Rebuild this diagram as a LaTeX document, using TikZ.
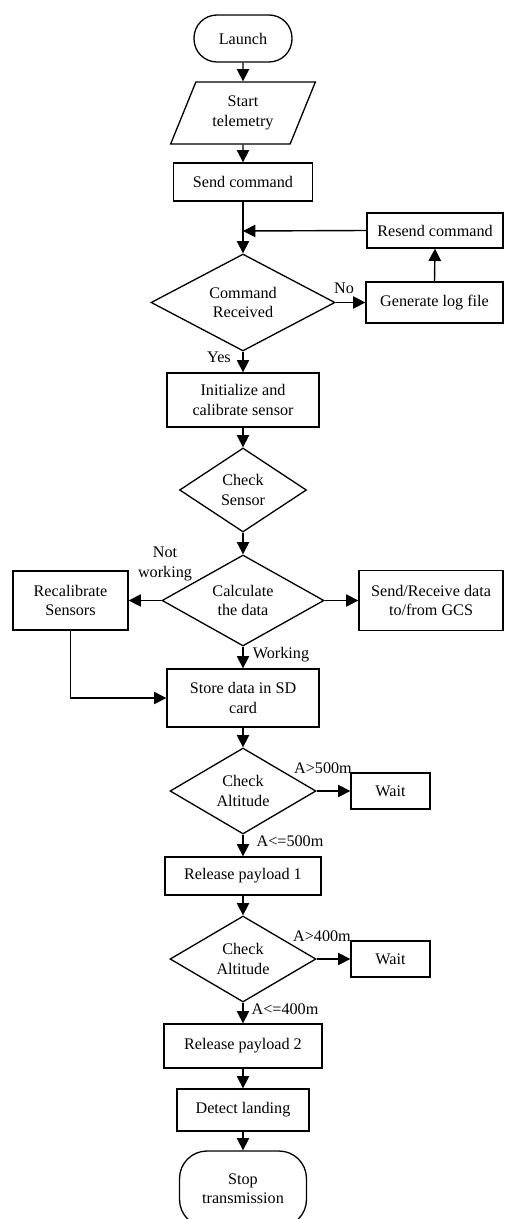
\documentclass[tikz,border=0pt]{standalone}
\usepackage{fontspec}
\setmainfont{Liberation Serif}
\usepackage{tikz}
\usetikzlibrary{shapes.geometric}
\usetikzlibrary{arrows.meta}

\tikzset{
  box/.style={draw, rectangle, align=center, inner sep=1pt, line width=0.75pt},
  term/.style={draw, rectangle, rounded corners=0.46cm, align=center, inner sep=1pt, line width=0.75pt},
  io/.style={draw, trapezium, trapezium left angle=65, trapezium right angle=115,
             trapezium stretches=true, align=center, inner sep=1pt, line width=0.75pt},
  decide/.style={draw, diamond, aspect=2, align=center, inner sep=0pt, line width=0.75pt},
  flow/.style={-{Triangle[length=7pt,width=7pt]}, line width=0.8pt},
  lbl/.style={inner sep=0pt, align=center}
}

\begin{document}
\begin{tikzpicture}[x=0.02cm, y=-0.02cm, font=\fontsize{9.2}{11}\selectfont]
                \useasboundingbox (0,0) rectangle (505,1219);
                % main column
                \node[term, minimum width=1.96cm, minimum height=0.94cm] (launch) at (243,38.5) {Launch};
                \node[io, minimum width=2.9cm, minimum height=1.24cm] (start) at (243,113) {Start\\telemetry};
                \node[box, minimum width=2.78cm, minimum height=0.76cm] (send) at (243,182) {Send command};
                \coordinate (merge) at (243,231);
                \node[decide, minimum width=3.68cm, minimum height=1.94cm] (cmd) at (243,302.5) {Command\\Received};
                \node[box, minimum width=3.04cm, minimum height=1.08cm] (init) at (243,400) {Initialize and\\calibrate sensor};
                \node[decide, minimum width=2.54cm, minimum height=1.68cm] (sensor) at (243,490) {Check\\Sensor};
                \node[decide, minimum width=3.24cm, minimum height=1.82cm] (calc) at (243,600.5) {Calculate\\the data};
                \node[box, minimum width=3.04cm, minimum height=1.16cm] (store) at (243,698) {Store data in SD\\card};
                \node[decide, minimum width=2.92cm, minimum height=1.72cm] (alt1) at (243,791) {Check\\Altitude};
                \node[box, minimum width=3.12cm, minimum height=0.76cm] (pay1) at (243,876) {Release payload 1};
                \node[decide, minimum width=2.92cm, minimum height=1.72cm] (alt2) at (243,959) {Check\\Altitude};
                \node[box, minimum width=3.16cm, minimum height=0.88cm] (pay2) at (243,1046) {Release payload 2};
                \node[box, minimum width=2.64cm, minimum height=0.84cm] (land) at (243,1110) {Detect landing};
                \node[term, rounded corners=0.55cm, minimum width=2.54cm, minimum height=1.52cm] (stop) at (243,1189) {Stop\\transmission};
                % side boxes
                \node[box, minimum width=2.72cm, minimum height=0.7cm] (resend) at (435,230.5) {Resend command};
                \node[box, minimum width=2.74cm, minimum height=0.82cm] (genlog) at (434.5,302.5) {Generate log file};
                \node[box, minimum width=2.3cm, minimum height=1.18cm] (recal) at (70.5,600.5) {Recalibrate\\Sensors};
                \node[box, minimum width=2.88cm, minimum height=1.2cm] (gcs) at (431,600.5) {Send/Receive data\\to/from GCS};
                \node[box, minimum width=1.58cm, minimum height=0.72cm] (wait1) at (390.5,791) {Wait};
                \node[box, minimum width=1.58cm, minimum height=0.72cm] (wait2) at (390.5,959) {Wait};
                % branch labels
                \node[lbl] (lno) at (344,288) {No};
                \node[lbl] (lyes) at (219,357) {Yes};
                \node[lbl] (lnotw) at (165,564) {Not\\working};
                \node[lbl] (lwork) at (281,655) {Working};
                \node[lbl] (lhigh1) at (323,768) {A>500m};
                \node[lbl] (llow1) at (290,841) {A<=500m};
                \node[lbl] (lhigh2) at (322,936) {A>400m};
                \node[lbl] (llow2) at (285,1009) {A<=400m};
                % connectors
                \foreach \a/\b in {launch/start, start/send, cmd/init, init/sensor, sensor/calc,
                    calc/store, store/alt1, alt1/pay1, pay1/alt2, alt2/pay2, pay2/land, land/stop}
                    \draw[flow] (\a) -- (\b);
                \draw[line width=0.8pt] (send.south) -- (merge);
                \draw[flow] (merge) -- (cmd.north);
                \draw[flow] (resend.west) -- (merge);
                \draw[flow] (cmd.east) -- (genlog.west);
                \draw[flow] (genlog.north) -- (resend.south);
                \draw[flow] (calc.west) -- (recal.east);
                \draw[flow] (calc.east) -- (gcs.west);
                \draw[flow] (recal.south) |- (store.west);
                \draw[flow] (alt1.east) -- (wait1.west);
                \draw[flow] (alt2.east) -- (wait2.west);
            \end{tikzpicture}
\end{document}
